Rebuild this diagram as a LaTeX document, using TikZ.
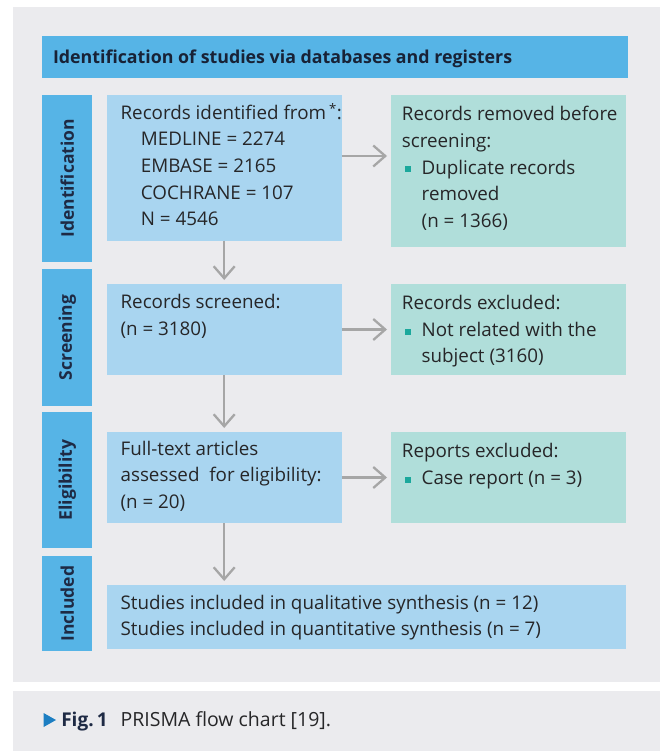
\documentclass[tikz,border=0pt]{standalone}
\usepackage{fontspec}
\setmainfont{Open Sans}
\usetikzlibrary{arrows.meta}
\definecolor{panelgray}{RGB}{235,235,238}
\definecolor{hdrblue}{RGB}{86,180,230}
\definecolor{lbox}{RGB}{169,213,240}
\definecolor{rbox}{RGB}{176,222,218}
\definecolor{txtc}{RGB}{38,38,40}
\definecolor{navy}{RGB}{30,42,68}
\definecolor{bulc}{RGB}{27,168,156}
\definecolor{arrc}{RGB}{166,166,166}
\definecolor{capblue}{RGB}{28,126,194}
\tikzset{
  rect/.style={inner sep=0pt, outer sep=0pt, anchor=north west, draw=none},
  leftbox/.style={rect, fill=lbox},
  rightbox/.style={rect, fill=rbox},
  sidebar/.style={rect, fill=hdrblue},
  txt/.style={inner sep=0pt, outer sep=0pt, anchor=north west, align=left, text=txtc,
    font=\fontsize{18.8}{26.6}\selectfont},
  sidetxt/.style={inner sep=0pt, rotate=90, text=navy, font=\bfseries\fontsize{17.5}{20}\selectfont},
  bul/.style={inner sep=0pt, outer sep=0pt, minimum size=6pt, fill=bulc},
  flow/.style={draw=arrc, line width=2.3pt, -{Straight Barb[length=12pt,width=21pt,line width=2.3pt]}, shorten >=4pt}
}
\newcommand{\st}{\rule{0pt}{16pt}}
\begin{document}
\begin{tikzpicture}[x=1pt,y=-1pt]
\useasboundingbox (0,0) rectangle (660,751);
\fill[white] (0,0) rectangle (660,751);
% panels
\node[rect, fill=panelgray, minimum width=647.3pt, minimum height=675pt] (panel) at (12.7,7) {};
\node[rect, fill=panelgray, minimum width=647.3pt, minimum height=60pt] (cappanel) at (12.7,691) {};
% header
\node[rect, fill=hdrblue, minimum width=585.7pt, minimum height=41.7pt] (hdr) at (42.3,36) {};
\node[txt, anchor=base west, text=navy!80!black, font=\bfseries\fontsize{17.8}{22}\selectfont] (hdrt) at (53,64) {Identification of studies via databases and registers};
% side bars
\node[sidebar, minimum width=49.9pt, minimum height=166.7pt] (s1) at (42.3,95) {};
\node[sidebar, minimum width=49.9pt, minimum height=136.4pt] (s2) at (42.3,269.3) {};
\node[sidebar, minimum width=49.9pt, minimum height=136pt] (s3) at (42.3,412) {};
\node[sidebar, minimum width=49.9pt, minimum height=95pt] (s4) at (42.3,556) {};
\node[sidetxt] (s1t) at (s1.center) {Identification};
\node[sidetxt] (s2t) at (s2.center) {Screening};
\node[sidetxt] (s3t) at (s3.center) {Eligibility};
\node[sidetxt] (s4t) at (s4.center) {Included};
% left boxes
\node[leftbox, minimum width=235.2pt, minimum height=145.7pt] (b1) at (106.6,95) {};
\node[leftbox, minimum width=235.2pt, minimum height=91pt] (b2) at (106.6,284) {};
\node[leftbox, minimum width=235.2pt, minimum height=91pt] (b3) at (106.6,432) {};
\node[leftbox, minimum width=519.4pt, minimum height=64pt] (b4) at (106.6,585) {};
% right boxes
\node[rightbox, minimum width=235pt, minimum height=151.7pt] (r1) at (391,95) {};
\node[rightbox, minimum width=235pt, minimum height=91pt] (r2) at (391,284) {};
\node[rightbox, minimum width=235pt, minimum height=91pt] (r3) at (391,432) {};
% left texts
\node[txt] (b1a) at (120.6,119.5-16) {\st Records identified from\,\textsuperscript{*}:};
\node[txt] (b1b) at (140.9,146-16) {\st MEDLINE = 2274\\EMBASE = 2165\\COCHRANE = 107\\N = 4546};
\node[txt] (b2t) at (120.6,308.7-16) {\st Records screened:\\(n = 3180)};
\node[txt] (b3t) at (120.6,455.3-16) {\st Full-text articles\\assessed\ \ for eligibility:\\(n = 20)};
\node[txt] (b4t) at (120.6,609.3-16) {\st Studies included in qualitative synthesis (n = 12)\\Studies included in quantitative synthesis (n = 7)};
% right texts
\node[txt] (r1a) at (401.9,121-16) {\st Records removed before\\screening:};
\node[bul] (r1bul) at (408,169.5) {};
\node[txt] (r1b) at (421.7,174.3-16) {\st Duplicate records\\removed\\(n = 1366)};
\node[txt] (r2a) at (401.9,309.7-16) {\st Records excluded:};
\node[bul] (r2bul) at (408,331.5) {};
\node[txt] (r2b) at (421.7,336-16) {\st Not related with the\\subject (3160)};
\node[txt] (r3a) at (401.9,457-16) {\st Reports excluded:};
\node[bul] (r3bul) at (408,479.5) {};
\node[txt] (r3b) at (421.7,484.7-16) {\st Case report (n = 3)};
% connectors
\coordinate (h1s) at ([yshift=-61pt]b1.north east);
\draw[flow] (b1.south) -- (b2.north);
\draw[flow] (b2.south) -- (b3.north);
\draw[flow] (b3.south) -- (b3.south |- b4.north);
\draw[flow] (h1s) -- (h1s -| r1.west);
\draw[flow] (b2.east) -- (r2.west);
\draw[flow] (b3.east) -- (r3.west);
% caption
\fill[capblue] (43.6,713) -- (56,720) -- (43.6,727) -- cycle;
\node[txt, anchor=base west, text=navy, font=\bfseries\fontsize{19}{22}\selectfont] (capf) at (61.3,726) {Fig.\,1};
\node[txt, anchor=base west, font=\fontsize{19.5}{22}\selectfont] (capt) at (120.6,726) {PRISMA flow chart [19].};
\end{tikzpicture}
\end{document}
